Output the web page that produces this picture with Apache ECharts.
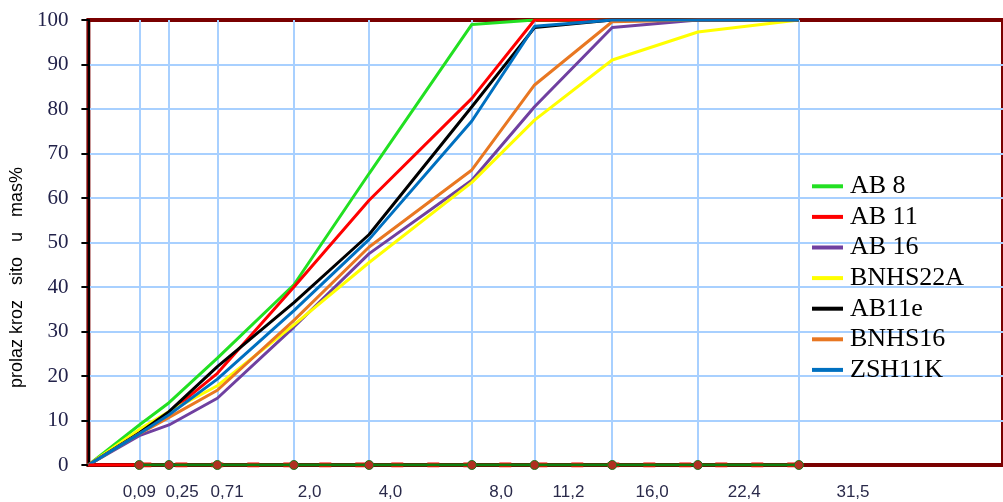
<!DOCTYPE html>
<html>
<head>
<meta charset="utf-8">
<script src="https://cdn.jsdelivr.net/npm/echarts@6/dist/echarts.min.js"></script>
<style>
html,body{margin:0;padding:0;background:#fff;}
#chart{width:1003px;height:502px;}
</style>
</head>
<body>
<div id="chart"></div>
<script>
// Sieve sizes (mm) and tick labels
const sieves = [0, 0.09, 0.25, 0.71, 2.0, 4.0, 8.0, 11.2, 16.0, 22.4, 31.5];
const tickLabels = ['0,09', '0,25', '0,71', '2,0', '4,0', '8,0', '11,2', '16,0', '22,4', '31,5'];
// Passing through sieve (mass %)
const seriesNames = ['AB 8', 'AB 11', 'AB 16', 'BNHS22A', 'AB11e', 'BNHS16', 'ZSH11K'];
const ab8     = [0, 9.0, 14.0, 24.0, 40.5, 65.5, 99.0, 100, 100, 100, 100];
const ab11    = [0, 7.5, 11.7, 20.6, 40.0, 59.5, 82.4, 100, 100, 100, 100];
const ab16    = [0, 6.6, 9.0, 15.0, 31.0, 47.5, 64.0, 80.5, 98.3, 100, 100];
const bnhs22a = [0, 8.0, 12.0, 17.8, 31.5, 45.5, 63.5, 77.5, 91.0, 97.3, 100];
const ab11e   = [0, 7.2, 12.0, 22.1, 36.5, 51.8, 80.5, 98.3, 100, 100, 100];
const bnhs16  = [0, 7.0, 10.7, 16.8, 32.5, 49.0, 66.3, 85.4, 99.6, 100, 100];
const zsh11k  = [0, 7.0, 11.3, 19.3, 34.7, 50.7, 77.3, 98.6, 100, 100, 100];
const baseline = [0, 0, 0, 0, 0, 0, 0, 0, 0, 0, 0];

const POW = 0.45; // grading-curve power scale
const tx = v => Math.pow(v, POW);

const colors = ['#22e022', '#ff0000', '#7040a0', '#ffff00', '#000000', '#e87722', '#0070c0'];
const valueArrays = [ab8, ab11, ab16, bnhs22a, ab11e, bnhs16, zsh11k];

const pts = arr => arr.map((y, i) => [tx(sieves[i]), y]);
const gridTicks = sieves.slice(1).map(tx);
const labelMap = {};
sieves.slice(1).forEach((s, i) => { labelMap[tx(s).toFixed(5)] = tickLabels[i]; });
const fmt = v => {
  const t = labelMap[v.toFixed(5)] || '';
  return t === tickLabels[1] ? '{s|' + t + '}' : t;
};
const labelFont = { fontFamily: 'Liberation Sans', fontSize: 17, color: '#2a2a4a' };

const lineSeries = seriesNames.map((name, k) => ({
  name: name,
  type: 'line',
  xAxisIndex: 0,
  data: pts(valueArrays[k]),
  symbol: 'none',
  lineStyle: { color: colors[k], width: 3 },
  itemStyle: { color: colors[k] },
  z: 3 + k,
  animation: false
}));

const chart = echarts.init(document.getElementById('chart'), null, { renderer: 'canvas' });
chart.setOption({
  animation: false,
  backgroundColor: '#ffffff',
  grid: {
    left: 85, right: -8, top: 20, bottom: 37,
    show: true, borderColor: '#7a0000', borderWidth: 4, backgroundColor: 'transparent'
  },
  legend: {
    orient: 'vertical',
    left: 807, top: 166,
    data: seriesNames,
    icon: 'rect',
    itemWidth: 31, itemHeight: 4, itemGap: 0,
    textStyle: { fontFamily: 'Liberation Serif', fontSize: 26, color: '#000', lineHeight: 30.6, padding: [0, 0, 0, 2] }
  },
  xAxis: [
    {
      type: 'value', min: 0, max: 6.08,
      axisLine: { show: false },
      axisTick: { show: false, customValues: gridTicks },
      axisLabel: Object.assign({ customValues: gridTicks.slice(0, 1), margin: 19, showMinLabel: true, formatter: fmt }, labelFont),
      splitLine: { show: true, lineStyle: { color: '#a8d0ff', width: 2 } }
    },
    {
      type: 'value', min: 0, max: 5.65, position: 'bottom',
      axisLine: { show: false },
      axisTick: { show: false },
      splitLine: { show: false },
      axisLabel: Object.assign({
        customValues: gridTicks.slice(1),
        showMinLabel: true, showMaxLabel: true,
        margin: 19,
        formatter: fmt,
        rich: { s: { fontFamily: 'Liberation Sans', fontSize: 17, color: '#2a2a4a', padding: [0, 0, 0, 14] } }
      }, labelFont)
    }
  ],
  yAxis: {
    type: 'value', min: 0, max: 100, interval: 10,
    name: 'prolaz kroz   sito   u   mas%',
    nameLocation: 'middle', nameGap: 55, nameRotate: 90,
    nameTextStyle: { fontFamily: 'Liberation Sans', fontSize: 18, color: '#000', padding: [0, 70, 0, 0] },
    axisLine: { show: true, lineStyle: { color: '#000', width: 2 } },
    axisTick: { show: true, length: 7, lineStyle: { color: '#000', width: 2 } },
    axisLabel: { margin: 20, fontFamily: 'Liberation Serif', fontSize: 21, color: '#22224a' },
    splitLine: { show: true, showMaxLine: false, showMinLine: false, lineStyle: { color: '#a8d0ff', width: 2 } }
  },
  series: [
    {
      name: 'baseRed', type: 'line', data: pts(baseline).slice(0, 2),
      symbol: 'none', lineStyle: { color: '#ff0000', width: 3 }, z: 10, silent: true
    },
    {
      name: 'baseRedDash', type: 'line', data: pts(baseline).slice(1),
      symbol: 'none', lineStyle: { color: '#ff0000', width: 5, type: [12, 24] }, z: 10, silent: true
    },
    {
      name: 'baseGreen', type: 'line', data: pts(baseline).slice(1),
      symbol: 'circle', symbolSize: 9, showSymbol: true,
      itemStyle: { color: '#b03020', borderColor: '#1e7a1e', borderWidth: 1 },
      lineStyle: { color: '#108010', width: 3 }, z: 11, silent: true
    }
  ].concat(lineSeries)
});
</script>
</body>
</html>
